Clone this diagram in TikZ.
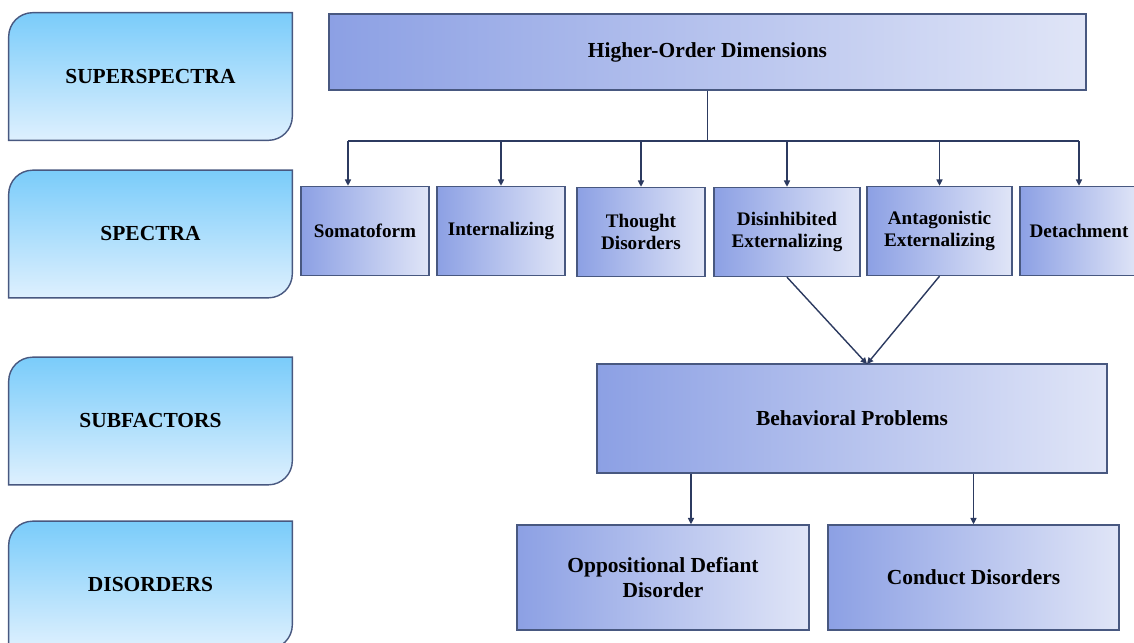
\documentclass[tikz,border=0pt]{standalone}
\usepackage{fontspec}
\setmainfont{Liberation Serif}
\usepackage{tikz}
\usetikzlibrary{arrows.meta, positioning, backgrounds}
\definecolor{edge}{RGB}{72,88,128}
\definecolor{linkblue}{RGB}{44,58,96}
\definecolor{skytop}{RGB}{122,204,250}
\definecolor{skybottom}{RGB}{222,240,254}
\definecolor{boxdark}{RGB}{140,160,228}
\definecolor{boxlight}{RGB}{224,229,247}

\begin{document}
\begin{tikzpicture}[
    x=0.02cm, y=-0.02cm,
    font=\fontsize{12.2}{14.6}\selectfont\bfseries,
    level/.style={rectangle, minimum width=5.66cm, minimum height=2.54cm, align=center, text=black},
    box/.style={rectangle, draw=edge, thick, left color=boxdark, right color=boxlight, minimum height=1.78cm, align=center, text=black, inner sep=1pt},
    spec/.style={box, font=\fontsize{10.9}{12.4}\selectfont\bfseries},
    arrow/.style={-{Triangle[length=3.6pt, width=3.4pt]}, line width=0.8pt, linkblue},
    line/.style={line width=0.8pt, linkblue}
]
\useasboundingbox (0,0) rectangle (1134,643);

% Levels
\node[level] (superspectra) at (150.5,76.5) {SUPERSPECTRA};
\node[level] (spectra) at (150.5,234) {SPECTRA};
\node[level] (subfactors) at (150.5,421) {SUBFACTORS};
\node[level] (disorders) at (150.5,585) {DISORDERS};

% Top
\node[box, minimum width=15.14cm, minimum height=1.52cm] (higher) at (707.5,52) {Higher-Order Dimensions};

% Spectra
\node[spec, minimum width=2.56cm] (soma) at (365,231) {Somatoform};
\node[spec, minimum width=2.56cm] (intern) at (501,231) {Internalizing};
\node[spec, minimum width=2.56cm] (thought) at (641,232) {Thought\\Disorders};
\node[spec, minimum width=2.92cm] (disinh) at (787,232) {Disinhibited\\Externalizing};
\node[spec, minimum width=2.90cm] (antag) at (939.5,231) {Antagonistic\\Externalizing};
\node[spec, minimum width=2.36cm] (detach) at (1079,231) {Detachment};

% Subfactor and disorders
\node[box, minimum width=10.2cm, minimum height=2.18cm] (behav) at (852,418.5) {Behavioral Problems};
\node[box, minimum width=5.84cm, minimum height=2.1cm] (odd) at (663,577.5) {Oppositional Defiant\\Disorder};
\node[box, minimum width=5.82cm, minimum height=2.1cm] (conduct) at (973.5,577.5) {Conduct Disorders};

% Level shapes
\begin{scope}[on background layer]
\foreach \n in {superspectra, spectra, subfactors, disorders}
  \path[draw=edge, thick, top color=skytop, bottom color=skybottom]
    (\n.south west) -- ([yshift=-0.48cm]\n.north west)
    arc[start angle=180, end angle=90, radius=0.48cm]
    -- (\n.north east) -- ([yshift=0.48cm]\n.south east)
    arc[start angle=0, end angle=-90, radius=0.48cm] -- cycle;
\end{scope}

% Arrows - higher order to spectra
\coordinate (busL) at (348,141);
\coordinate (meet) at (867,364);
\draw[line] (busL) -- (busL -| detach);
\draw[line] (higher) -- (higher |- busL);
\draw[arrow] (busL) -- (busL |- soma.north);
\foreach \b in {intern, thought, disinh, antag, detach}
  \draw[arrow] (\b |- busL) -- (\b);

% Arrows - externalizing to behavioral problems
\draw[arrow] (disinh.south) -- (meet);
\draw[arrow] (antag.south) -- (meet);

% Arrows - behavioral problems to disorders
\draw[arrow] ([xshift=0.56cm]odd.north |- behav.south) -- ([xshift=0.56cm]odd.north);
\draw[arrow] (behav.south -| conduct) -- (conduct);

\end{tikzpicture}
\end{document}
